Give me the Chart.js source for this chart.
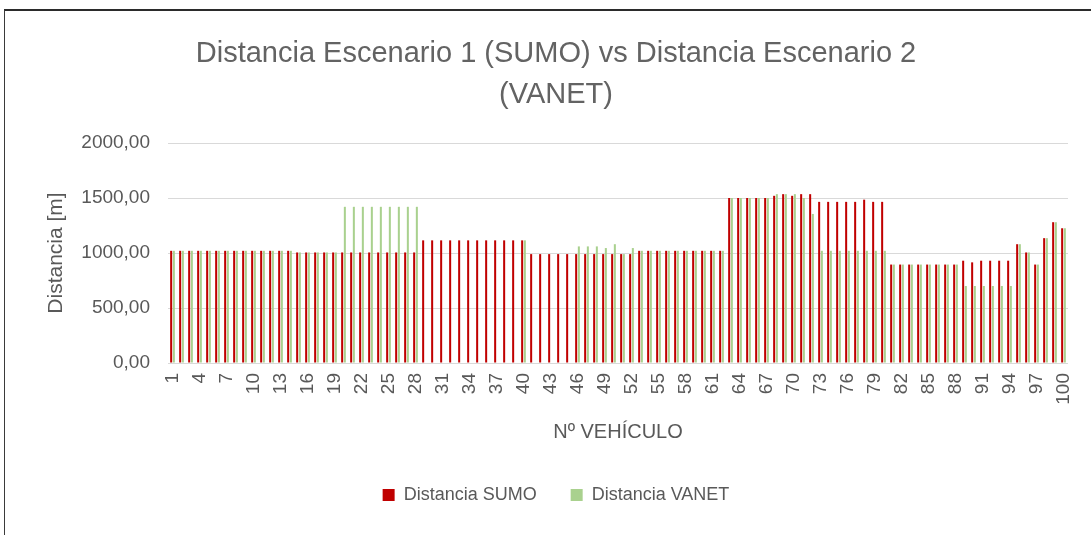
<!DOCTYPE html>
<html lang="es">
<head>
<meta charset="utf-8">
<title>Distancia SUMO vs VANET</title>
<script src="https://cdn.jsdelivr.net/npm/chart.js@4.4.1/dist/chart.umd.min.js"></script>
<style>
    html, body { margin: 0; padding: 0; background: #fff; }
    #marco {
        position: absolute; left: 4px; top: 9px; width: 1100px; height: 540px;
        border-top: 2px solid #2b2b2b; border-left: 1px solid #3a3a3a; box-sizing: border-box;
    }
    #contenedor { position: absolute; left: 0; top: 0; width: 1091px; height: 535px; }
</style>
</head>
<body>
<div id="marco"></div>
<div id="contenedor"><canvas id="grafico-distancia"></canvas></div>
<script>
// Vehículos 1..100
const vehiculos = Array.from({ length: 100 }, (_, i) => String(i + 1));

// Etiquetas visibles del eje X (una de cada tres)
const etiquetasEje = ['1', '4', '7', '10', '13', '16', '19', '22', '25', '28', '31', '34',
    '37', '40', '43', '46', '49', '52', '55', '58', '61', '64', '67', '70', '73', '76',
    '79', '82', '85', '88', '91', '94', '97', '100'];

// Distancia recorrida en el escenario 1 (SUMO) [m]
const distanciaSumo = [
    1020, 1020, 1020, 1020, 1020, 1020, 1020, 1020, 1020, 1020,
    1020, 1020, 1020, 1020, 1005, 1005, 1005, 1005, 1005, 1005,
    1005, 1005, 1005, 1005, 1005, 1005, 1005, 1005, 1115, 1115,
    1115, 1115, 1115, 1115, 1115, 1115, 1115, 1115, 1115, 1115,
    990, 990, 990, 990, 990, 990, 990, 990, 990, 990,
    990, 990, 1020, 1020, 1020, 1020, 1020, 1020, 1020, 1020,
    1020, 1020, 1500, 1500, 1500, 1500, 1500, 1520, 1535, 1520,
    1535, 1535, 1465, 1465, 1465, 1465, 1465, 1485, 1465, 1465,
    895, 895, 895, 895, 895, 895, 895, 895, 930, 915,
    930, 930, 930, 930, 1080, 1005, 895, 1135, 1280, 1225
];

// Distancia recorrida en el escenario 2 (VANET) [m]
const distanciaVanet = [
    1020, 1020, 1020, 1020, 1020, 1020, 1020, 1020, 1020, 1020,
    1020, 1020, 1020, 1020, 1005, 1005, 1005, 1005, 1005, 1420,
    1420, 1420, 1420, 1420, 1420, 1420, 1420, 1420, null, null,
    null, null, null, null, null, null, null, null, null, 1115,
    null, null, null, null, null, 1060, 1060, 1060, 1045, 1080,
    990, 1045, 1020, 1020, 1020, 1020, 1020, 1020, 1020, 1020,
    1020, 1020, 1500, 1500, 1500, 1500, 1500, 1535, 1535, 1535,
    1500, 1355, 1020, 1020, 1020, 1020, 1020, 1020, 1020, 1020,
    895, 895, 895, 895, 895, 895, 895, 895, 700, 700,
    700, 700, 700, 700, 1080, 1005, 895, 1135, 1280, 1225
];

const FUENTE = "'Liberation Sans', Arial, sans-serif";
const GRIS_TEXTO = '#595959';

// Formato con coma decimal: 1500 -> "1500,00"
const formatearDistancia = (valor) => valor.toFixed(2).replace('.', ',');

const ctx = document.getElementById('grafico-distancia').getContext('2d');

window.graficoDistancia = new Chart(ctx, {
    type: 'bar',
    data: {
        labels: vehiculos,
        datasets: [
            {
                label: 'Distancia SUMO',
                data: distanciaSumo,
                backgroundColor: '#C00000',
                borderWidth: 0,
                categoryPercentage: 0.6,
                barPercentage: 0.75
            },
            {
                label: 'Distancia VANET',
                data: distanciaVanet,
                backgroundColor: '#A9D18E',
                borderWidth: 0,
                categoryPercentage: 0.6,
                barPercentage: 0.75
            }
        ]
    },
    options: {
        responsive: true,
        maintainAspectRatio: false,
        animation: false,
        layout: {
            padding: { left: 44, right: 23, top: 0, bottom: 21 }
        },
        scales: {
            x: {
                afterFit: (scale) => { scale.height = 89; },
                grid: { display: false },
                border: { display: false },
                ticks: {
                    autoSkip: false,
                    minRotation: 90,
                    maxRotation: 90,
                    padding: 2,
                    color: GRIS_TEXTO,
                    font: { family: FUENTE, size: 19 },
                    callback: function(valor, indice) {
                        const etiqueta = vehiculos[indice];
                        return etiquetasEje.includes(etiqueta) ? etiqueta : '';
                    }
                },
                title: {
                    display: true,
                    text: 'Nº VEHÍCULO',
                    color: GRIS_TEXTO,
                    font: { family: FUENTE, size: 20 },
                    padding: { top: 0, bottom: 8 }
                }
            },
            y: {
                min: 0,
                max: 2000,
                afterFit: (scale) => { scale.width = 124; },
                grid: { color: '#D9D9D9', drawTicks: false },
                border: { display: false },
                ticks: {
                    stepSize: 500,
                    padding: 18,
                    color: GRIS_TEXTO,
                    font: { family: FUENTE, size: 19 },
                    callback: (valor) => formatearDistancia(valor)
                },
                title: {
                    display: true,
                    text: 'Distancia [m]',
                    color: GRIS_TEXTO,
                    font: { family: FUENTE, size: 21 },
                    padding: { top: 0, bottom: 0 }
                }
            }
        },
        plugins: {
            title: {
                display: true,
                text: ['Distancia Escenario 1 (SUMO) vs Distancia Escenario 2', '(VANET)'],
                color: '#636363',
                font: { family: FUENTE, size: 29, weight: 'normal', lineHeight: 1.414 },
                padding: { top: 33, bottom: 28 }
            },
            legend: {
                position: 'bottom',
                labels: {
                    boxWidth: 12,
                    boxHeight: 12,
                    padding: 34,
                    color: GRIS_TEXTO,
                    font: { family: FUENTE, size: 18 }
                }
            },
            tooltip: { enabled: false }
        }
    }
});
</script>
</body>
</html>
